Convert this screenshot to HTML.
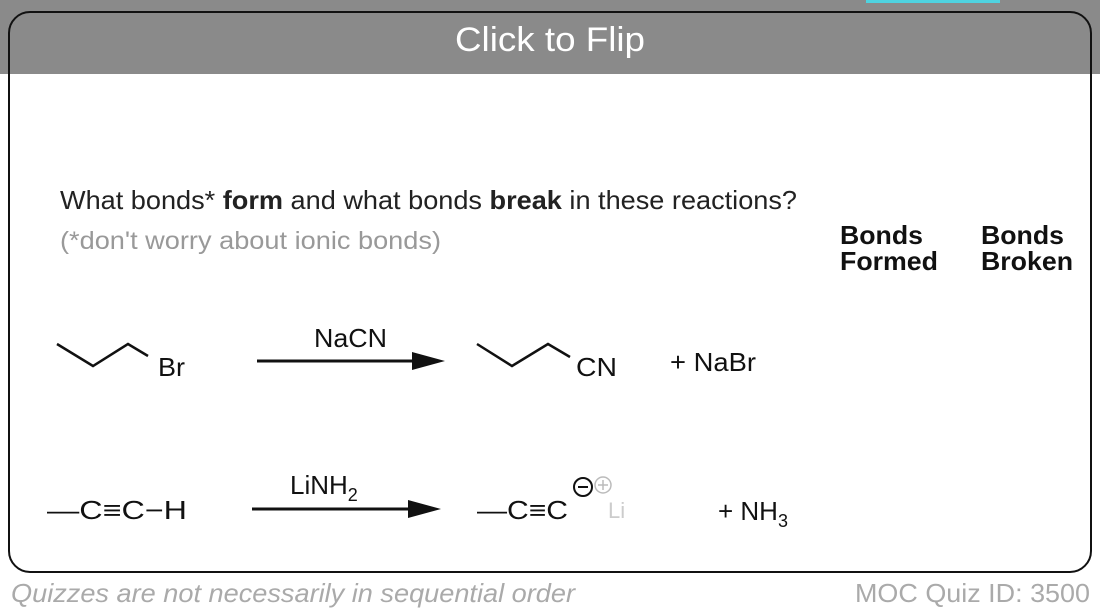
<!DOCTYPE html>
<html><head><style>
body{margin:0;width:1100px;height:614px;background:#fff;position:relative;overflow:hidden;font-family:"Liberation Sans",sans-serif}
.a{position:absolute;white-space:nowrap}
</style></head><body>
<div class="a" style="left:0;top:0;width:1100px;height:74px;background:#8a8a8a"></div>
<div class="a" style="left:866px;top:0;width:134px;height:3px;background:#4fd3e0"></div>
<div class="a" style="left:8px;top:11px;width:1080px;height:558px;border:2.5px solid #111;border-radius:22px"></div>
<svg class="a" style="left:0;top:0" width="1100" height="614" font-family="Liberation Sans, sans-serif">
<text x="455" y="51" font-size="34" fill="#fff" textLength="190" lengthAdjust="spacingAndGlyphs">Click to Flip</text>
<text x="60" y="209" font-size="26" fill="#222" textLength="737" lengthAdjust="spacingAndGlyphs">What bonds* <tspan font-weight="bold">form</tspan> and what bonds <tspan font-weight="bold">break</tspan> in these reactions?</text>
<text x="60" y="249" font-size="25" fill="#999" textLength="381" lengthAdjust="spacingAndGlyphs">(*don't worry about ionic bonds)</text>
<g font-size="26" font-weight="bold" fill="#111">
<text x="840" y="244" textLength="83" lengthAdjust="spacingAndGlyphs">Bonds</text>
<text x="840" y="270" textLength="98" lengthAdjust="spacingAndGlyphs">Formed</text>
<text x="981" y="244" textLength="83" lengthAdjust="spacingAndGlyphs">Bonds</text>
<text x="981" y="270" textLength="92" lengthAdjust="spacingAndGlyphs">Broken</text>
</g>
<g stroke="#111" stroke-width="2.5" fill="none">
<polyline points="57,344 93,366 128,344 148,356"/>
<polyline points="477,344 512,366 548,344 570,357"/>
<line x1="257" y1="361" x2="420" y2="361" stroke-width="3"/>
<line x1="252" y1="509" x2="420" y2="509" stroke-width="3"/>
</g>
<polygon points="445,361 412,352 412,370" fill="#111"/>
<polygon points="441,509 408,500 408,518" fill="#111"/>
<g font-size="26" fill="#111">
<text x="158" y="376" textLength="27" lengthAdjust="spacingAndGlyphs">Br</text>
<text x="314" y="347" textLength="73" lengthAdjust="spacingAndGlyphs">NaCN</text>
<text x="576" y="376" textLength="41" lengthAdjust="spacingAndGlyphs">CN</text>
<text x="670" y="371" textLength="86" lengthAdjust="spacingAndGlyphs">+ NaBr</text>
<text x="47" y="519" textLength="140" lengthAdjust="spacingAndGlyphs">—C≡C−H</text>
<text x="290" y="494">LiNH<tspan font-size="18" dy="7">2</tspan></text>
<text x="477" y="519" textLength="91" lengthAdjust="spacingAndGlyphs">—C≡C</text>
<text x="718" y="520">+ NH<tspan font-size="18" dy="7">3</tspan></text>
</g>
<circle cx="583" cy="487" r="9" stroke="#111" stroke-width="2" fill="none"/>
<line x1="578" y1="487" x2="588" y2="487" stroke="#111" stroke-width="2"/>
<circle cx="603" cy="485" r="8" stroke="#bbb" stroke-width="1.5" fill="none"/>
<line x1="598" y1="485" x2="608" y2="485" stroke="#bbb" stroke-width="1.5"/>
<line x1="603" y1="480" x2="603" y2="490" stroke="#bbb" stroke-width="1.5"/>
<text x="608" y="518" font-size="22" fill="#ccc">Li</text>
<text x="11" y="602" font-size="26" font-style="italic" fill="#aaa" textLength="564" lengthAdjust="spacingAndGlyphs">Quizzes are not necessarily in sequential order</text>
<text x="855" y="602" font-size="26" fill="#aaa" textLength="235" lengthAdjust="spacingAndGlyphs">MOC Quiz ID: 3500</text>
</svg>
</body></html>
